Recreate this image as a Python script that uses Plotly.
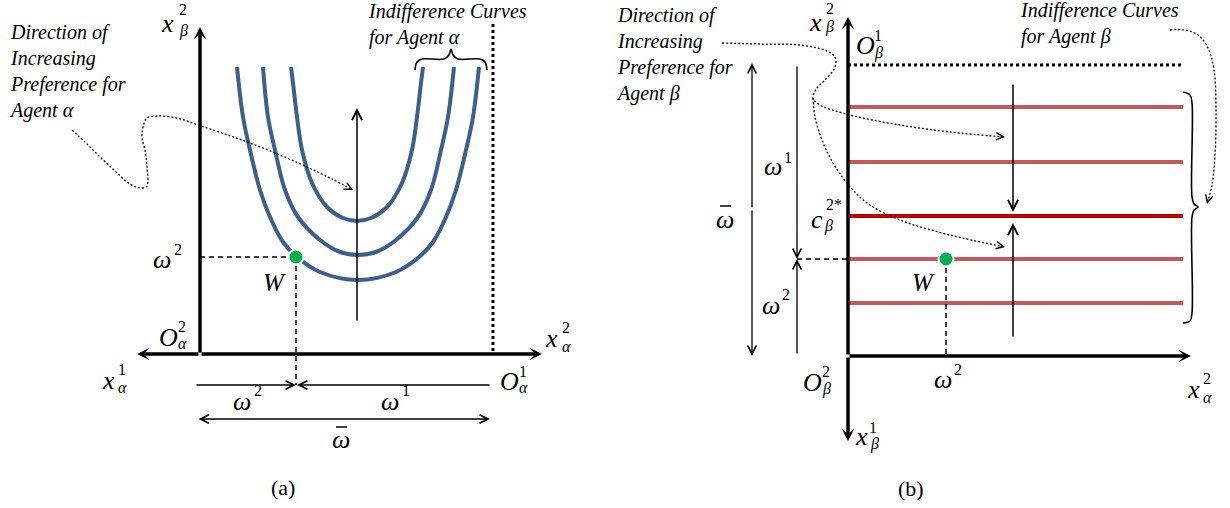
import math
import plotly.graph_objects as go

# ---------------- data (pixel frame, y grows downward) -------------
# Panel (a): three indifference curves of agent alpha
ic_outer_x = [237, 243, 250, 260, 270, 283, 297, 320, 358, 396, 419, 433, 446, 456, 466, 473, 479]
ic_outer_y = [67, 117, 150, 190, 217, 242, 257, 272, 280, 272, 257, 242, 217, 190, 150, 117, 67]
ic_mid_x = [263, 268, 275, 285, 298, 320, 340, 358, 376, 396, 418, 431, 441, 448, 454]
ic_mid_y = [67, 117, 150, 190, 217, 240, 252, 255, 252, 240, 217, 190, 150, 117, 67]
ic_inner_x = [291, 293, 297, 302, 312, 327, 343, 357, 371, 387, 402, 412, 417, 421, 423]
ic_inner_y = [67, 83, 117, 150, 183, 207, 218, 221, 218, 207, 183, 150, 117, 83, 67]

# Endowment point W
w_a = (296, 257)
w_b = (946, 259)

# Panel (b): indifference levels of agent beta (horizontal lines)
beta_levels_y = [107, 162, 216, 259, 303]
beta_optimal_index = 2
beta_line_x = [848, 1183]

# Dotted leader curves
lead_a_x = [72, 86, 100, 114, 127, 136, 142, 147, 147, 145, 142, 143, 147, 157, 177, 198, 225, 250, 280, 307, 332, 353]
lead_a_y = [130, 143, 157, 170, 182, 187, 188, 186, 167, 150, 138, 127, 118, 116, 118, 125, 134, 143, 155, 167, 179, 190]
lead_b_x = [722, 760, 800, 827, 835, 835, 825, 817, 813]
lead_b_y = [43, 44, 45, 51, 57, 67, 80, 88, 98]
lead_b1_x = [813, 820, 850, 900, 950, 1005]
lead_b1_y = [98, 105, 115, 125, 132, 137]
lead_b2_x = [813, 815, 822, 833, 847, 867, 900, 950, 1005]
lead_b2_y = [98, 117, 140, 163, 183, 203, 220, 235, 247]
lead_ic_b_x = [1170, 1185, 1198, 1208, 1214, 1216, 1215, 1212, 1207]
lead_ic_b_y = [30, 30, 35, 48, 70, 110, 155, 185, 204]

BLUE = "#3C5F8E"
RED_LIGHT = "#C45A58"
RED_DARK = "#C00000"
GREEN = "#00B050"
SERIF = "Liberation Serif"

fig = go.Figure()


def line(xs, ys, color="black", width=1.5, dash="solid", shape="linear"):
    fig.add_trace(go.Scatter(x=xs, y=ys, mode="lines", hoverinfo="skip", showlegend=False,
                             line=dict(color=color, width=width, dash=dash, shape=shape, smoothing=1.0)))


def arrow(x0, y0, x1, y1, width=1.5, head=5, size=1.3, both=False):
    fig.add_annotation(x=x1, y=y1, ax=x0, ay=y0, xref="x", yref="y", axref="x", ayref="y",
                       text="", showarrow=True, arrowhead=head, arrowsize=size, arrowwidth=width,
                       arrowcolor="black", arrowside="end+start" if both else "end",
                       startarrowhead=head, startarrowsize=size, standoff=0, startstandoff=0)


def dotted_lead(xs, ys):
    line(xs, ys, width=1.3, dash="2px,2px", shape="spline")
    dx, dy = xs[-1] - xs[-2], ys[-1] - ys[-2]
    n = math.hypot(dx, dy)
    arrow(xs[-1] - 6 * dx / n, ys[-1] - 6 * dy / n, xs[-1], ys[-1], width=1.2, head=5, size=1.2)


def lab(text, x, y, size=22, italic=True, family=SERIF, anchor="center"):
    t = f"<i>{text}</i>" if italic else text
    fig.add_annotation(x=x, y=y, xref="x", yref="y", text=t, showarrow=False, xanchor=anchor,
                       yanchor="middle", align="left", borderpad=0,
                       font=dict(family=family, size=size, color="black"))


# ---------------- panel (a) ----------------
for xs, ys in [(ic_outer_x, ic_outer_y), (ic_mid_x, ic_mid_y), (ic_inner_x, ic_inner_y)]:
    line(xs, ys, color=BLUE, width=4, shape="spline")

arrow(200, 354, 200, 27, width=3.5, head=3, size=0.6)
arrow(200, 354, 137, 354, width=3.5, head=3, size=0.6)
arrow(200, 354, 542, 354, width=3.5, head=3, size=0.6)
line([493, 493], [24, 352], width=3, dash="3px,3px")

arrow(357, 322, 357, 108, width=1.5)

line([200, w_a[0]], [w_a[1], w_a[1]], width=1.5, dash="5px,4px")
line([w_a[0], w_a[0]], [w_a[1], 385], width=1.5, dash="5px,4px")

arrow(195, 385, w_a[0], 385, width=1.3)
arrow(491, 385, w_a[0] + 1, 385, width=1.3)
arrow(197, 419, 490, 419, width=1.3, both=True)

line([415, 417, 422, 444, 449, 451, 453, 458, 480, 485, 487],
     [70, 62, 59, 59, 55, 49, 55, 59, 59, 62, 70], width=1.6, shape="spline")

dotted_lead(lead_a_x, lead_a_y)

# ---------------- panel (b) ----------------
for i, yv in enumerate(beta_levels_y):
    line(beta_line_x, [yv, yv], color=RED_DARK if i == beta_optimal_index else RED_LIGHT, width=4)

line([848, 1183], [65, 65], width=3, dash="3px,3px")
arrow(848, 356, 848, 17, width=3.5, head=3, size=0.6)
arrow(848, 356, 848, 441, width=3.5, head=3, size=0.6)
arrow(848, 356, 1191, 356, width=3.5, head=3, size=0.6)

arrow(1013, 83, 1013, 212, width=1.5)
arrow(1013, 338, 1013, 223, width=1.5)

arrow(752, 209, 752, 63, width=1.3)
arrow(752, 209, 752, 356, width=1.3)
arrow(797, 65, 797, 259, width=1.3)
arrow(797, 355, 797, 259, width=1.3)

line([797, 848], [w_b[1], w_b[1]], width=1.5, dash="5px,4px")
line([w_b[0], w_b[0]], [w_b[1], 356], width=1.5, dash="5px,4px")

line([1183, 1190, 1192, 1192, 1194, 1198, 1194, 1192, 1192, 1190, 1183],
     [92, 95, 103, 197, 204, 207, 210, 217, 313, 321, 323], width=1.6, shape="spline")

dotted_lead(lead_b_x + lead_b1_x[1:], lead_b_y + lead_b1_y[1:])
dotted_lead(lead_b2_x, lead_b2_y)
dotted_lead(lead_ic_b_x, lead_ic_b_y)

fig.add_trace(go.Scatter(x=[w_a[0], w_b[0]], y=[w_a[1], w_b[1]], mode="markers", hoverinfo="skip",
                         showlegend=False,
                         marker=dict(size=15, color=GREEN, line=dict(color="white", width=2))))

# ---------------- text ----------------
TXT = 20
lab("Direction of<br>Increasing<br>Preference for<br>Agent α", 8, 71, size=TXT, anchor="left")
lab("Indifference Curves<br>for Agent α", 367, 24, size=TXT, anchor="left")
lab("Direction of<br>Increasing<br>Preference for<br>Agent β", 615, 54, size=TXT, anchor="left")
lab("Indifference Curves<br>for Agent β", 1019, 23, size=TXT, anchor="left")

B, S = 26, 16
# panel (a) math labels
lab("x", 167, 23, B); lab("2", 183, 9, S, False); lab("β", 183, 31, S)
lab("ω", 162, 259, B); lab("2", 178, 249, S, False)
lab("W", 274, 282, 25)
lab("O", 168, 337, B); lab("2", 182, 326, S, False); lab("α", 182, 343, S)
lab("x", 551, 338, B); lab("2", 566, 327, S, False); lab("α", 566, 346, S)
lab("x", 108, 380, B); lab("1", 122, 369, S, False); lab("α", 122, 387, S)
lab("O", 509, 381, B); lab("1", 523, 371, S, False); lab("α", 523, 387, S)
lab("ω", 242, 401, B); lab("2", 258, 390, S, False)
lab("ω", 390, 401, B); lab("1", 406, 390, S, False)
lab("ω", 341, 439, B)
line([336, 347], [427, 427], width=1.5)
lab("(a)", 283, 487, 22, False)

# panel (b) math labels
lab("x", 815, 22, B); lab("2", 830, 8, S, False); lab("β", 829, 27, S)
lab("O", 865, 45, B); lab("1", 878, 35, S, False); lab("β", 878, 53, S)
lab("ω", 773, 166, B); lab("1", 788, 157, S, False)
lab("ω", 725, 219, B)
line([720, 731], [206, 206], width=1.5)
lab("c", 817, 219, B); lab("2*", 834, 204, S, False); lab("β", 828, 226, S)
lab("ω", 771, 305, B); lab("2", 786, 294, S, False)
lab("W", 923, 282, 25)
lab("O", 812, 382, B); lab("2", 826, 371, S, False); lab("β", 826, 389, S)
lab("ω", 943, 379, B); lab("2", 958, 369, S, False)
lab("x", 1193, 389, B); lab("2", 1207, 378, S, False); lab("α", 1207, 397, S)
lab("x", 861, 436, B); lab("1", 873, 427, S, False); lab("β", 874, 444, S)
lab("(b)", 911, 488, 22, False)

fig.update_xaxes(range=[0, 1230], visible=False, fixedrange=True)
fig.update_yaxes(range=[508, 0], visible=False, fixedrange=True)
fig.update_layout(width=1230, height=508, margin=dict(l=0, r=0, t=0, b=0),
                  plot_bgcolor="white", paper_bgcolor="white", showlegend=False)

fig.write_html("out.html", config={"displayModeBar": False},
               post_script="document.body.style.margin='0px';document.body.style.overflow='hidden';")
